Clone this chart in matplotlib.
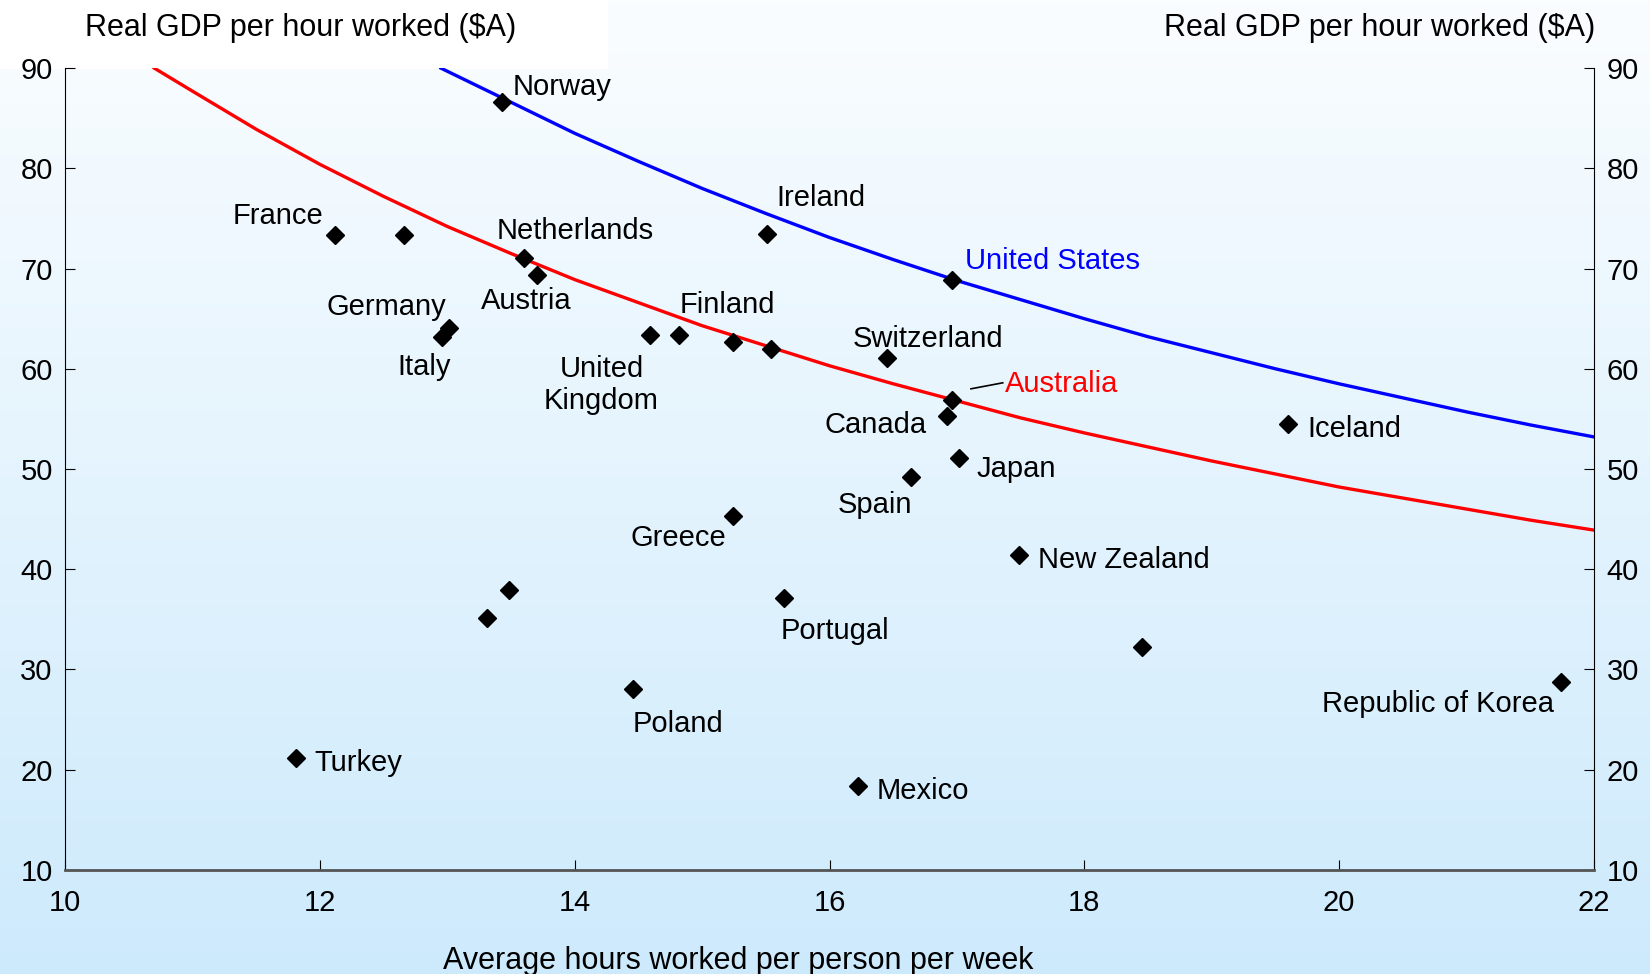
import numpy as np
import matplotlib.pyplot as plt
from matplotlib.colors import LinearSegmentedColormap
from matplotlib.patches import Rectangle

plt.rcParams['font.family'] = ['Liberation Sans', 'DejaVu Sans']

# country points: hours worked per person per week, real GDP per hour worked
countries = ['Norway', 'France', 'Belgium', 'Netherlands', 'Austria', 'Germany', 'Italy',
             'United Kingdom', 'Sweden', 'Finland', 'Denmark', 'Ireland', 'United States',
             'Switzerland', 'Australia', 'Canada', 'Japan', 'Spain', 'Iceland', 'Greece',
             'New Zealand', 'Portugal', 'Czech Republic', 'Slovak Republic', 'Hungary',
             'Republic of Korea', 'Poland', 'Turkey', 'Mexico']
hours = [13.43, 12.12, 12.66, 13.60, 13.70, 13.01, 12.96,
         14.59, 14.82, 15.24, 15.54, 15.51, 16.96,
         16.45, 16.96, 16.92, 17.02, 16.64, 19.60, 15.24,
         17.49, 15.64, 13.48, 13.31, 18.45,
         21.74, 14.46, 11.81, 16.22]
gdp_hour = [86.6, 73.4, 73.4, 71.1, 69.4, 64.1, 63.2,
            63.4, 63.4, 62.7, 62.0, 73.5, 68.9,
            61.1, 56.9, 55.3, 51.1, 49.2, 54.5, 45.3,
            41.4, 37.1, 37.9, 35.1, 32.2,
            28.7, 28.0, 21.2, 18.4]

# iso-income curves
us_hours = [12.95, 13.5, 14, 14.5, 15, 15.5, 16, 16.5, 17, 17.5, 18, 18.5, 19, 19.5,
            20, 20.5, 21, 21.5, 22]
us_gdp = [90.0, 86.6, 83.5, 80.7, 78.0, 75.5, 73.1, 70.9, 68.8, 66.9, 65.0, 63.2, 61.6,
          60.0, 58.5, 57.1, 55.7, 54.4, 53.2]
au_hours = [10.7, 11, 11.5, 12, 12.5, 13, 13.5, 14, 14.5, 15, 15.5, 16, 16.5, 17, 17.5,
            18, 18.5, 19, 19.5, 20, 20.5, 21, 21.5, 22]
au_gdp = [90.0, 87.7, 83.9, 80.4, 77.2, 74.2, 71.5, 68.9, 66.6, 64.3, 62.3, 60.3, 58.5,
          56.8, 55.1, 53.6, 52.2, 50.8, 49.5, 48.2, 47.1, 46.0, 44.9, 43.9]

# label text, position, alignment
labels = [
    ('Norway', 13.51, 88.1, 'left', 'black'),
    ('France', 12.03, 75.2, 'right', 'black'),
    ('Netherlands', 14.0, 73.8, 'center', 'black'),
    ('Austria', 13.62, 66.8, 'center', 'black'),
    ('Germany', 12.52, 66.2, 'center', 'black'),
    ('Italy', 12.82, 60.2, 'center', 'black'),
    ('United\nKingdom', 14.21, 58.4, 'center', 'black'),
    ('Finland', 15.20, 66.4, 'center', 'black'),
    ('Ireland', 15.93, 77.0, 'center', 'black'),
    ('United States', 17.06, 70.8, 'left', 'blue'),
    ('Switzerland', 16.77, 63.0, 'center', 'black'),
    ('Australia', 17.38, 58.5, 'left', 'red'),
    ('Canada', 16.36, 54.4, 'center', 'black'),
    ('Japan', 17.15, 50.0, 'left', 'black'),
    ('Spain', 16.36, 46.4, 'center', 'black'),
    ('Iceland', 19.75, 54.0, 'left', 'black'),
    ('Greece', 14.81, 43.1, 'center', 'black'),
    ('New Zealand', 17.64, 40.9, 'left', 'black'),
    ('Portugal', 16.04, 33.8, 'center', 'black'),
    ('Republic of Korea', 21.69, 26.5, 'right', 'black'),
    ('Poland', 14.81, 24.5, 'center', 'black'),
    ('Turkey', 11.96, 20.7, 'left', 'black'),
    ('Mexico', 16.37, 17.9, 'left', 'black'),
]

fig = plt.figure(figsize=(16.5, 9.74), dpi=100)

# background gradient over the whole figure
bg = fig.add_axes([0, 0, 1, 1], zorder=-10)
cmap = LinearSegmentedColormap.from_list('bg', ['#fafdff', '#cdeafc'])
bg.imshow(np.linspace(0, 1, 256).reshape(-1, 1), aspect='auto', cmap=cmap,
          extent=[0, 1, 0, 1])
bg.axis('off')
bg.add_patch(Rectangle((0, 0.930), 0.368, 0.07, color='white', transform=bg.transAxes))

ax = fig.add_axes([0.0395, 0.107, 0.9265, 0.823])
ax.set_facecolor('none')

ax.plot(us_hours, us_gdp, color='#0000ff', lw=2.4, zorder=2)
ax.plot(au_hours, au_gdp, color='#ff0000', lw=2.4, zorder=2)
ax.plot(hours, gdp_hour, 'D', color='black', ms=9, zorder=3)

for txt, x, y, ha, c in labels:
    ax.text(x, y, txt, ha=ha, va='center', color=c, fontsize=21, linespacing=1.2)
ax.plot([17.11, 17.36], [58.0, 58.6], color='black', lw=1.2)

ax.set_xlim(10, 22)
ax.set_ylim(10, 90)
ax.set_xticks(range(10, 23, 2))
ax.set_yticks(range(10, 91, 10))
ax.tick_params(direction='in', length=7, labelsize=21, right=True, labelright=True,
               pad=9)
ax.tick_params(axis='x', pad=14)
ax.spines['top'].set_visible(False)
ax.spines['bottom'].set_color('#555555')
ax.spines['bottom'].set_linewidth(2)

ax.set_xlabel('Average hours worked per person per week', fontsize=22, labelpad=12)
ax.xaxis.set_label_coords(0.44, -0.095)
fig.text(0.182, 0.971, 'Real GDP per hour worked ($A)', ha='center', va='center', fontsize=22)
fig.text(0.836, 0.971, 'Real GDP per hour worked ($A)', ha='center', va='center', fontsize=22)

fig.savefig('out.png', dpi=100)
